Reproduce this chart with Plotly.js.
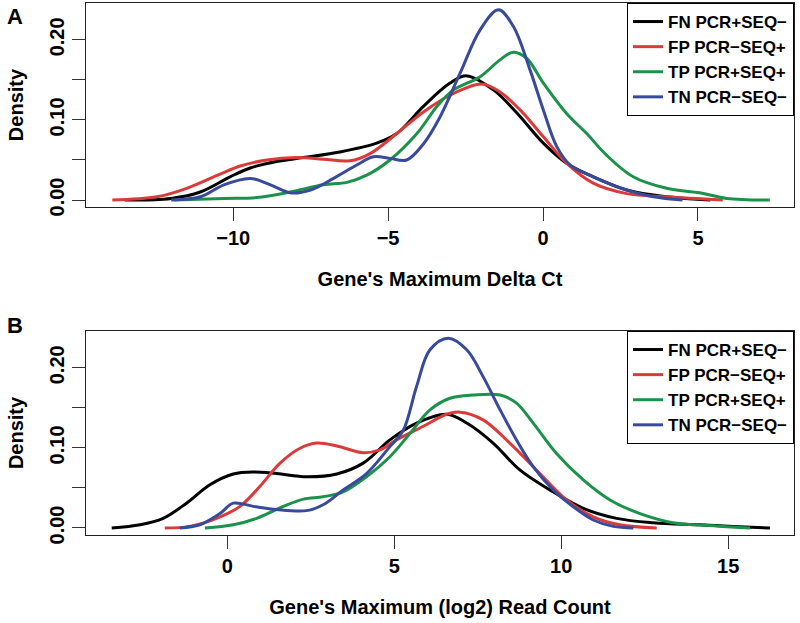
<!DOCTYPE html>
<html>
<head>
<meta charset="utf-8">
<script src="https://cdn.plot.ly/plotly-3.0.1.min.js"></script>
<style>html,body{margin:0;padding:0;background:#fff}#chart{width:800px;height:623px}</style>
</head>
<body>
<div id="chart"></div>
<script>
// ---- Series names ----
const seriesNames = ["FN PCR+SEQ\u2212", "FP PCR\u2212SEQ+", "TP PCR+SEQ+", "TN PCR\u2212SEQ\u2212"];
const seriesColors = ["#000000", "#DB3A3A", "#1B9249", "#384A9C"];

// ---- Panel A: Gene's Maximum Delta Ct ----
const aFN_x = [-13.5, -12.0, -11.06, -10.1, -9.45, -8.6, -7.74, -6.55, -5.37, -4.72, -3.86, -3.0, -2.46, -1.6, -0.85, 0.01, 0.76, 1.62, 2.7, 3.99, 5.4];
const aFN_y = [0, 0.002, 0.010, 0.029, 0.040, 0.048, 0.053, 0.060, 0.071, 0.083, 0.117, 0.146, 0.155, 0.1375, 0.109, 0.071, 0.046, 0.029, 0.0125, 0.004, 0];

const aFP_x = [-13.9, -12.46, -11.5, -10.5, -9.77, -8.91, -7.95, -7.09, -6.23, -5.58, -4.72, -3.86, -2.89, -1.98, -1.39, -0.74, 0.01, 0.76, 1.62, 2.7, 3.99, 5.8];
const aFP_y = [0, 0.004, 0.0146, 0.031, 0.0425, 0.050, 0.053, 0.051, 0.049, 0.058, 0.083, 0.110, 0.133, 0.145, 0.135, 0.1125, 0.079, 0.046, 0.021, 0.008, 0.004, 0];

const aTP_x = [-11.9, -10.3, -9.24, -8.16, -7.09, -6.33, -5.69, -4.94, -4.07, -3.4, -2.89, -2.03, -1.39, -0.96, -0.53, 0.01, 0.76, 1.41, 2.05, 2.91, 3.99, 5.06, 5.93, 7.32];
const aTP_y = [0, 0.002, 0.003, 0.010, 0.019, 0.022, 0.031, 0.050, 0.083, 0.118, 0.1375, 0.154, 0.175, 0.1846, 0.177, 0.146, 0.108, 0.083, 0.056, 0.029, 0.0146, 0.009, 0.002, 0];

const aTN_x = [-12.0, -11.06, -10.3, -9.45, -8.8, -8.16, -7.5, -6.76, -6.0, -5.47, -4.94, -4.4, -3.86, -3.32, -2.68, -2.03, -1.44, -0.96, -0.42, 0.01, 0.44, 0.87, 1.62, 2.7, 3.56, 4.5];
const aTN_y = [0, 0.004, 0.019, 0.027, 0.019, 0.009, 0.0125, 0.027, 0.044, 0.054, 0.052, 0.050, 0.070, 0.104, 0.158, 0.2125, 0.2375, 0.217, 0.1625, 0.1125, 0.067, 0.044, 0.029, 0.0125, 0.004, 0];

// ---- Panel B: Gene's Maximum (log2) Read Count ----
const bFN_x = [-3.46, -2.61, -1.92, -1.22, -0.52, 0.18, 0.78, 1.48, 2.38, 3.28, 4.07, 4.87, 5.67, 6.57, 7.17, 7.96, 8.76, 9.66, 10.66, 11.66, 12.75, 14.15, 15.15, 16.25];
const bFN_y = [0, 0.004, 0.012, 0.031, 0.054, 0.0675, 0.070, 0.068, 0.064, 0.0675, 0.081, 0.110, 0.131, 0.142, 0.131, 0.106, 0.0725, 0.0475, 0.0246, 0.012, 0.0066, 0.004, 0.002, 0];

const bFP_x = [-1.87, -1.12, -0.32, 0.38, 0.98, 1.58, 2.18, 2.68, 3.28, 4.07, 4.57, 5.07, 5.87, 6.57, 6.97, 7.66, 8.46, 9.36, 10.16, 10.96, 11.76, 12.86];
const bFP_y = [0, 0.002, 0.012, 0.027, 0.052, 0.081, 0.0996, 0.106, 0.1025, 0.094, 0.0975, 0.110, 0.127, 0.142, 0.1446, 0.135, 0.106, 0.068, 0.035, 0.014, 0.004, 0];

const bTP_x = [-0.67, 0.18, 0.88, 1.68, 2.28, 2.87, 3.47, 4.17, 4.87, 5.47, 6.07, 6.67, 7.37, 8.17, 8.66, 9.16, 9.86, 10.66, 11.46, 12.36, 13.35, 14.65, 15.65];
const bTP_y = [0, 0.004, 0.012, 0.027, 0.036, 0.039, 0.045, 0.064, 0.089, 0.118, 0.1475, 0.162, 0.166, 0.166, 0.156, 0.131, 0.093, 0.060, 0.035, 0.018, 0.0066, 0.0025, 0];

const bTN_x = [-1.42, -0.82, -0.22, 0.18, 0.78, 1.48, 2.38, 2.87, 3.47, 4.17, 4.87, 5.27, 5.67, 6.07, 6.62, 7.17, 7.66, 8.17, 8.66, 9.16, 9.76, 10.36, 10.96, 11.56, 12.16];
const bTN_y = [0, 0.004, 0.018, 0.031, 0.027, 0.023, 0.0217, 0.029, 0.0475, 0.068, 0.1016, 0.122, 0.177, 0.2225, 0.237, 0.2225, 0.189, 0.1475, 0.110, 0.0766, 0.0475, 0.0266, 0.010, 0.002, 0];

// ---- Axis labels ----
const panelLabels = ["A", "B"];
const xTitleA = "Gene's Maximum Delta Ct";
const xTitleB = "Gene's Maximum (log2) Read Count";
const yTitle = "Density";

const FONT = "Liberation Sans, Arial, Helvetica, sans-serif";

const panelA = [[aFN_x, aFN_y], [aFP_x, aFP_y], [aTP_x, aTP_y], [aTN_x, aTN_y]];
const panelB = [[bFN_x, bFN_y], [bFP_x, bFP_y], [bTP_x, bTP_y], [bTN_x, bTN_y]];

const traces = [];
panelA.forEach((d, i) => traces.push({
  x: d[0], y: d[1], type: 'scatter', mode: 'lines', name: seriesNames[i],
  line: {color: seriesColors[i], width: 3, shape: 'spline', smoothing: 1},
  xaxis: 'x', yaxis: 'y', legend: 'legend'
}));
panelB.forEach((d, i) => traces.push({
  x: d[0], y: d[1], type: 'scatter', mode: 'lines', name: seriesNames[i],
  line: {color: seriesColors[i], width: 3, shape: 'spline', smoothing: 1},
  xaxis: 'x2', yaxis: 'y2', legend: 'legend2'
}));

const tickFont = {family: FONT, size: 20, color: '#000', weight: 'bold'};
const titleFont = {family: FONT, size: 20, color: '#000', weight: 'bold'};

function xAxis(range, title, anchor) {
  return {
    range: range, dtick: 5, tick0: 0, ticks: 'outside', ticklen: 13, tickwidth: 1, tickcolor: '#333',
    showline: true, linecolor: '#222', linewidth: 1.2, mirror: true, showgrid: false, zeroline: false,
    tickfont: tickFont, anchor: anchor, automargin: false,
    title: {text: title, font: titleFont, standoff: 23}
  };
}
function yAxis(domain, anchor) {
  return {
    domain: domain, range: [-0.00875, 0.246], dtick: 0.1, tick0: 0, tickformat: '.2f',
    ticks: 'outside', ticklen: 13, tickwidth: 1, tickcolor: '#333', tickangle: -90,
    minor: {dtick: 0.05, tick0: 0, ticks: 'outside', ticklen: 13, tickwidth: 1, tickcolor: '#333', showgrid: false},
    showline: true, linecolor: '#222', linewidth: 1.2, mirror: true, showgrid: false, zeroline: false,
    tickfont: tickFont, anchor: anchor, automargin: false,
    title: {text: yTitle, font: titleFont, standoff: 16}
  };
}

const legendCfg = (y) => ({
  x: 1, xanchor: 'right', y: y, yanchor: 'top',
  bgcolor: '#fff', bordercolor: '#000', borderwidth: 1,
  font: {family: FONT, size: 17, color: '#000', weight: 'bold'},
  itemwidth: 30, tracegroupgap: 0
});

const layout = {
  width: 800, height: 623,
  margin: {l: 86, r: 6, t: 3, b: 88},
  paper_bgcolor: '#fff', plot_bgcolor: '#fff',
  font: {family: FONT, color: '#000'},
  xaxis: xAxis([-14.75, 8.1], xTitleA, 'y'),
  yaxis: yAxis([0.6165, 1], 'x'),
  xaxis2: xAxis([-4.23, 16.97], xTitleB, 'y2'),
  yaxis2: yAxis([0, 0.3835], 'x2'),
  legend: legendCfg(1),
  legend2: legendCfg(0.3835),
  showlegend: true,
  annotations: [
    {text: panelLabels[0], xref: 'paper', yref: 'paper', x: -0.114, y: 0.9737, xanchor: 'left', yanchor: 'middle', showarrow: false, font: {family: FONT, size: 22, color: '#000', weight: 'bold'}},
    {text: panelLabels[1], xref: 'paper', yref: 'paper', x: -0.114, y: 0.3947, xanchor: 'left', yanchor: 'middle', showarrow: false, font: {family: FONT, size: 22, color: '#000', weight: 'bold'}}
  ]
};

Plotly.newPlot('chart', traces, layout, {displayModeBar: false, staticPlot: true});
</script>
</body>
</html>
